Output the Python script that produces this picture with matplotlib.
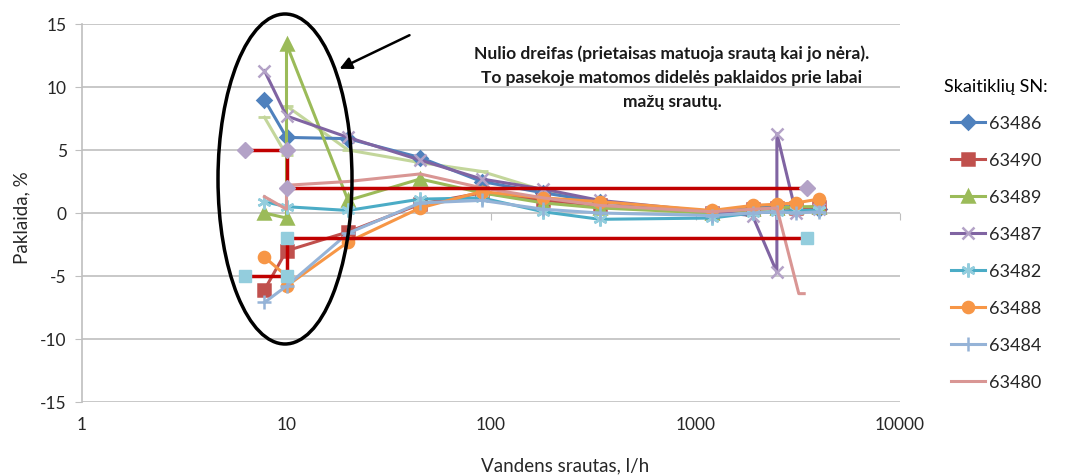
import numpy as np
import matplotlib
matplotlib.use("Agg")
from matplotlib import pyplot as plt
from matplotlib.patches import Ellipse

plt.rcParams['font.family'] = ['Lato', 'DejaVu Sans']
plt.rcParams['axes.unicode_minus'] = False

# pasirinkti srautai, l/h
x_base = [7.8, 10, 20, 45, 90, 180, 340, 1200, 1900, 2500, 3100, 4000]
x_dbl10 = [7.8, 10, 10, 20, 45, 90, 180, 340, 1200, 1900, 2500, 3100, 4000]

x_63486 = x_base
y_63486 = [9.0, 6.0, 5.9, 4.4, 2.5, 1.6, 0.9, 0.1, 0.4, 0.5, 0.5, 0.3]
x_63490 = x_base
y_63490 = [-6.1, -3.0, -1.5, 0.7, 1.6, 1.0, 0.6, 0.0, 0.3, 0.4, 0.4, 0.5]
x_63489 = x_dbl10
y_63489 = [0.0, -0.4, 13.4, 1.0, 2.7, 1.6, 0.8, 0.4, 0.0, 0.3, 0.4, 0.5, 0.5]
x_63487 = [7.8, 10, 20, 45, 90, 180, 340, 1200, 1900, 2500, 2500, 3100, 4000]
y_63487 = [11.3, 7.7, 6.0, 4.2, 2.7, 1.9, 1.0, 0.1, -0.2, -4.7, 6.3, 0.0, 0.3]
x_63482 = x_base
y_63482 = [0.9, 0.5, 0.2, 1.1, 1.2, 0.1, -0.5, -0.4, 0.0, 0.1, 0.2, 0.2]
x_63488 = x_dbl10
y_63488 = [-3.5, -5.0, -5.8, -2.3, 0.4, 1.7, 1.2, 0.9, 0.2, 0.6, 0.7, 0.8, 1.1]
x_63484 = x_base
y_63484 = [-7.1, -5.8, -1.6, 0.8, 1.0, 0.3, 0.0, -0.2, 0.0, 0.1, 0.0, 0.1]
x_63480 = [7.8, 10, 10, 20, 45, 90, 180, 340, 1200, 1900, 2500, 3200, 3400]
y_63480 = [1.3, 0.3, 2.2, 2.5, 3.1, 2.0, 1.2, 0.6, 0.1, 0.3, 0.4, -6.4, -6.4]
# dar vienas skaitiklis be legendos
x_extra = x_dbl10
y_extra = [7.6, 4.6, 8.5, 5.0, 4.0, 3.3, 1.8, 0.6, 0.0, 0.2, 0.3, 0.4, 0.4]

# leistinos paklaidos ribos
x_lim = [6.3, 10, 10, 3500]
y_upper = [5, 5, 2, 2]
y_lower = [-5, -5, -2, -2]

x_ticks = [1, 10, 100, 1000, 10000]
x_tick_labels = ['1', '10', '100', '1000', '10000']
y_ticks = [-15, -10, -5, 0, 5, 10, 15]

note = ('Nulio dreifas (prietaisas matuoja srautą kai jo nėra).\n'
        'To pasekoje matomos didelės paklaidos prie labai\n'
        'mažų srautų.')

series = [
    ('63486', x_63486, y_63486, '#4F81BD', 'D', '#4F81BD', 7),
    ('63490', x_63490, y_63490, '#C0504D', 's', '#C0504D', 8),
    ('63489', x_63489, y_63489, '#9BBB59', '^', '#9BBB59', 8),
    ('63487', x_63487, y_63487, '#8064A2', 'x', '#B3A2C7', 9),
    ('63482', x_63482, y_63482, '#4BACC6', (6, 2, 0), '#93CDDD', 10),
    ('63488', x_63488, y_63488, '#F79646', 'o', '#F79646', 8),
    ('63484', x_63484, y_63484, '#95B3D7', '+', '#95B3D7', 10),
    ('63480', x_63480, y_63480, '#D99694', '_', '#D99694', 0),
]

fig = plt.figure(figsize=(10.92, 4.77), dpi=100)
ax = fig.add_axes([82 / 1092, 74 / 477, 818 / 1092, 378 / 477])

ax.plot(x_extra, y_extra, color='#C3D69B', lw=2.2, marker='_', ms=8, mew=2, zorder=2)
for name, xs, ys, col, mk, mcol, ms in series:
    ax.plot(xs, ys, color=col, lw=2.2, marker=mk, ms=ms, mfc=mcol, mec=mcol,
            mew=1.8, label=name, zorder=3)

ax.plot(x_lim, y_upper, color='#C00000', lw=2.5, marker='D', ms=8,
        mfc='#B3A2C7', mec='#B3A2C7', zorder=4)
ax.plot(x_lim, y_lower, color='#C00000', lw=2.5, marker='s', ms=9,
        mfc='#93CDDD', mec='#93CDDD', zorder=4)

ax.set_xscale('log')
ax.set_xlim(1, 10000)
ax.set_ylim(-15, 15)
ax.set_xticks(x_ticks)
ax.set_xticklabels(x_tick_labels)
ax.xaxis.set_minor_locator(matplotlib.ticker.NullLocator())
ax.set_yticks(y_ticks)
ax.yaxis.grid(True, color='#BFBFBF', lw=1.2)
ax.set_axisbelow(True)
for s in ['top', 'right', 'bottom']:
    ax.spines[s].set_visible(False)
ax.spines['left'].set_color('#BFBFBF')
ax.spines['left'].set_linewidth(1.2)
ax.tick_params(axis='y', length=5, color='#BFBFBF', labelsize=12.5,
               labelcolor='#262626', pad=6)
ax.tick_params(axis='x', length=0, labelsize=12.5, labelcolor='#262626', pad=10)

# horizontali ašis kerta ties 0
sec = ax.secondary_xaxis(0.5)
sec.xaxis.set_ticks_position('bottom')
sec.set_xticks(x_ticks)
sec.set_xticklabels([])
sec.xaxis.set_minor_locator(matplotlib.ticker.NullLocator())
sec.tick_params(axis='x', length=5, color='#BFBFBF', labeltop=False,
                labelbottom=False)
sec.spines['bottom'].set_color('#BFBFBF')
sec.spines['bottom'].set_linewidth(1.2)
sec.spines['top'].set_visible(False)

fig.text(22 / 1092, 1 - 218 / 477, 'Paklaida, %', rotation=90, ha='center',
         va='center', fontsize=13.5, color='#262626')
fig.text(565 / 1092, 1 - 466 / 477, 'Vandens srautas, l/h', ha='center',
         va='center', fontsize=13.5, color='#262626')

fig.text(672 / 1092, 1 - 78 / 477, note, ha='center', va='center',
         fontsize=12.5, fontweight='bold', color='#1a1a1a', linespacing=1.6)

ell = Ellipse((285 / 1092, 1 - 180 / 477), 134 / 1092, 330 / 477,
              transform=fig.transFigure, fill=False, ec='black', lw=2.5, zorder=10)
fig.add_artist(ell)
ax.annotate('', xy=(337, 477 - 71), xycoords='figure pixels',
            xytext=(412, 477 - 35), textcoords='figure pixels',
            arrowprops=dict(arrowstyle='-|>', color='black', lw=1.8,
                            mutation_scale=18))

leg = ax.legend(loc='upper left', bbox_to_anchor=(1.045, 0.875), frameon=False,
                title='Skaitiklių SN:', fontsize=13, title_fontsize=13,
                handlelength=1.9, labelspacing=1.16, handletextpad=0.2,
                borderaxespad=0)
leg._legend_box.align = 'center'
for t in leg.get_texts():
    t.set_color('#262626')

fig.savefig('out.png', dpi=100)
